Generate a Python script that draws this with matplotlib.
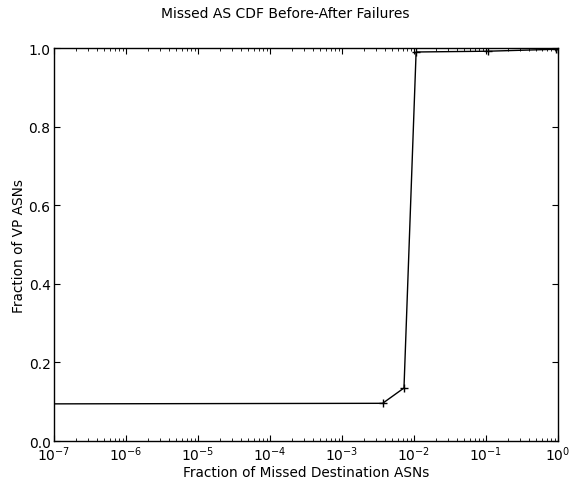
import matplotlib
matplotlib.use("Agg")
import matplotlib.pyplot as plt
from matplotlib.ticker import LogLocator, LogFormatterSciNotation

# ── CDF points ────────────────────────────────────────────────────────────
missed_frac = [1e-9, 3.67e-3, 7.26e-3, 1.07e-2, 0.107, 0.95, 1.0]
vp_frac     = [0.094, 0.096, 0.135, 0.99, 0.992, 0.997, 0.998]

plt.rcParams["font.family"] = "DejaVu Sans"
plt.rcParams["mathtext.fontset"] = "dejavusans"

fig = plt.figure(figsize=(5.71, 4.81), dpi=100)
ax = fig.add_axes([0.0946, 0.081, 0.8826, 0.817])

ax.plot(missed_frac, vp_frac, color="black", marker="+", markersize=6,
        linewidth=1.0, markeredgewidth=1.0)

ax.set_xscale("log")
ax.set_xlim(1e-7, 1.0)
ax.set_ylim(0.0, 1.0)
ax.set_yticks([0.0, 0.2, 0.4, 0.6, 0.8, 1.0])
ax.set_yticklabels(["0.0", "0.2", "0.4", "0.6", "0.8", "1.0"])
ax.xaxis.set_major_locator(LogLocator(base=10, numticks=20))
ax.xaxis.set_minor_locator(LogLocator(base=10, subs=range(2, 10), numticks=100))
ax.xaxis.set_major_formatter(LogFormatterSciNotation())

ax.tick_params(which="both", direction="in", top=True, right=True,
               labelsize=10, pad=2.5)
ax.tick_params(which="major", length=4, width=0.8)
ax.tick_params(which="minor", length=2, width=0.6)
for s in ax.spines.values():
    s.set_linewidth(1.0)

ax.set_xlabel("Fraction of Missed Destination ASNs", fontsize=9.8, labelpad=1)
ax.set_ylabel("Fraction of VP ASNs", fontsize=9.8, labelpad=2)
fig.suptitle("Missed AS CDF Before-After Failures", fontsize=10, y=0.985)

fig.savefig("out.png", dpi=100)
